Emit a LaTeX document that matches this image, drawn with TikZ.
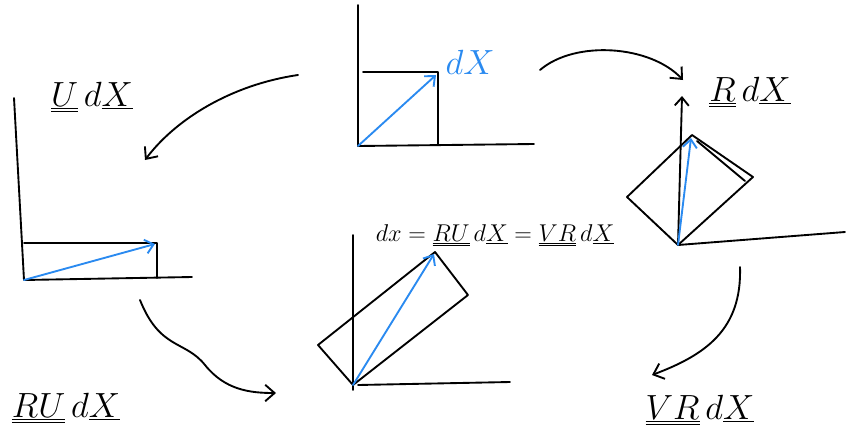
\documentclass[tikz,border=0pt]{standalone}
\usepackage{graphicx}
\usepackage{tikz}
\usetikzlibrary{arrows.meta}
\usepackage{xcolor}
\definecolor{skblue}{HTML}{2A8AF0}
\newcommand{\tens}[1]{\underline{\underline{#1}}}
\newcommand{\vect}[1]{\underline{#1}}
\newcommand{\biglbl}[1]{\scalebox{1.2}{#1}}

\begin{document}
\begin{tikzpicture}[
  x=0.03cm,y=-0.03cm,
  ink/.style={line width=1.6pt,line cap=round,line join=round},
  vec/.style={ink,skblue,-{Straight Barb[length=7pt,width=12pt]}},
  swoop/.style={ink,-{Straight Barb[length=8pt,width=14pt]}},
  lbl/.style={inner sep=1pt,font=\Huge},
  >={Straight Barb[length=7pt,width=12pt]}]
\useasboundingbox (0,0) rectangle (846,443);

% top: reference square
\coordinate (oA) at (358,146);
\draw[ink] (358,5) -- (oA) -- (534,144);
\draw[ink] (363,72) -- (438,72) -- (438,144);
\draw[vec] (oA) -- (436,75);
\node[lbl,skblue] (ldX) at (470,62) {\biglbl{$dX$}};

% left: stretched
\coordinate (oB) at (24,280);
\draw[ink] (14,98) -- (oB) -- (192,277);
\draw[ink] (24,243) -- (157,243) -- (157,278);
\draw[vec] (oB) -- (155,244);
\node[lbl] (lU) at (92,97) {\biglbl{$\tens{U}\,d\vect{X}$}};

% right: rotated
\coordinate (oC) at (678,245);
\draw[ink,->] (oC) -- (682,96);
\draw[ink] (oC) -- (845,232);
\draw[ink] (oC) -- (627,197) -- (692,135) -- (753,177) -- cycle;
\draw[ink] (697,141) -- (745,181);
\draw[vec] (oC) -- (691,138);
\node[lbl] (lR) at (750,92) {\biglbl{$\tens{R}\,d\vect{X}$}};

% bottom: stretched and rotated
\coordinate (oD) at (353,385);
\draw[ink] (353,235) -- (353,390);
\draw[ink] (358,385) -- (510,382);
\draw[ink] (oD) -- (318,345) -- (435,252) -- (468,295) -- cycle;
\draw[vec] (oD) -- (434,254);
\node[lbl,font=\huge] (lEq) at (495,235)
  {$dx = \tens{R}\tens{U}\,d\vect{X} = \tens{V}\tens{R}\,d\vect{X}$};

\node[lbl] (lRU) at (66,408) {\biglbl{$\tens{R}\tens{U}\,d\vect{X}$}};
\node[lbl] (lVR) at (700,410) {\biglbl{$\tens{V}\tens{R}\,d\vect{X}$}};

% curved arrows
\coordinate (a1) at (298,75);  \coordinate (b1) at (145,160);
\coordinate (a2) at (540,70);  \coordinate (b2) at (683,80);
\coordinate (a3) at (140,300); \coordinate (b3) at (276,393);
\coordinate (a4) at (740,267); \coordinate (b4) at (652,375);
\draw[swoop] (a1) .. controls (230,85) and (175,120) .. (b1);
\draw[swoop] (a2) .. controls (575,40) and (650,45) .. (b2);
\draw[swoop] (a3) .. controls (160,350) and (185,340) .. (205,365)
  .. controls (225,390) and (250,393) .. (b3);
\draw[swoop] (a4) .. controls (742,330) and (705,355) .. (b4);
\end{tikzpicture}
\end{document}
